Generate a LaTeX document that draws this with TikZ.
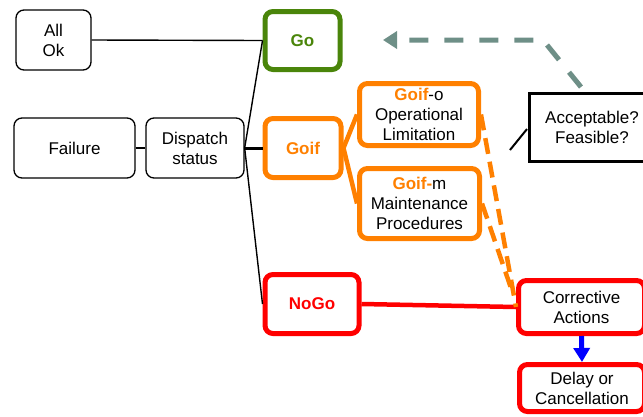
\documentclass[tikz,border=0pt]{standalone}
\usepackage{fontspec}
\setmainfont{Liberation Sans}
\usetikzlibrary{arrows.meta,calc}
\definecolor{gogreen}{HTML}{4A850A}
\definecolor{goorange}{HTML}{FF8000}
\definecolor{nogored}{HTML}{FF0000}
\definecolor{grayteal}{HTML}{6E8F87}
\definecolor{arrowblue}{HTML}{0000FF}
\tikzset{
  txt/.style={font=\fontsize{17}{20}\selectfont, align=center, inner sep=0pt},
  plainbox/.style={txt, draw=black, line width=1.3pt, rounded corners=8pt},
  greenbox/.style={txt, draw=gogreen, line width=5pt, rounded corners=8pt, text=gogreen, font=\fontsize{17}{20}\selectfont\bfseries},
  orangebox/.style={txt, draw=goorange, line width=5pt, rounded corners=8pt},
  redbox/.style={txt, draw=nogored, line width=5pt, rounded corners=8pt},
  sharpbox/.style={txt, draw=black, line width=2.5pt},
  thinline/.style={draw=black, line width=1.4pt},
  orangeline/.style={draw=goorange, line width=4.5pt},
  orangedash/.style={draw=goorange, line width=4.5pt, dash pattern=on 16pt off 8pt},
  redline/.style={draw=nogored, line width=4.5pt},
  backarrow/.style={draw=grayteal, line width=5pt, dash pattern=on 19pt off 16pt, -{Triangle[length=14pt,width=17pt]}},
  bluearrow/.style={draw=arrowblue, line width=5pt, -{Triangle[length=14pt,width=16pt]}}
}
\begin{document}
\begin{tikzpicture}[x=1pt,y=-1pt]
\useasboundingbox (0,0) rectangle (643,416);
% nodes
\node[plainbox, minimum width=75pt, minimum height=60pt] (allok) at (53.5,40) {All\\Ok};
\node[plainbox, minimum width=121pt, minimum height=60pt] (failure) at (74.5,148) {Failure};
\node[plainbox, minimum width=98pt, minimum height=60pt] (dispatch) at (195,148) {Dispatch\\status};
\node[greenbox, minimum width=75pt, minimum height=58pt] (go) at (302.5,40.5) {Go};
\node[orangebox, minimum width=76pt, minimum height=59pt, text=goorange, font=\fontsize{17}{20}\selectfont\bfseries] (goif) at (303,148) {Goif};
\node[redbox, minimum width=94pt, minimum height=59pt, text=nogored, font=\fontsize{17}{20}\selectfont\bfseries] (nogo) at (312,304) {NoGo};
\node[orangebox, minimum width=119pt, minimum height=62pt] (goifo) at (419,114.5) {{\bfseries\color{goorange}Goif}-o\\Operational\\Limitation};
\node[orangebox, minimum width=120pt, minimum height=70pt] (goifm) at (419.5,203.5) {{\bfseries\color{goorange}Goif-}m\\Maintenance\\Procedures};
\node[sharpbox, minimum width=125pt, minimum height=68pt] (accept) at (592,127.5) {Acceptable?\\Feasible?};
\node[redbox, minimum width=126pt, minimum height=53pt] (corr) at (581.5,307) {Corrective\\Actions};
\node[redbox, minimum width=125pt, minimum height=47pt] (delay) at (582,388) {Delay or\\Cancellation};
% coordinates
\coordinate (stubA) at (510,150);
\coordinate (backstart) at (581,87);
\coordinate (backbend) at (543,40);
\coordinate (backend) at (383,40);
\coordinate (mdashend) at (512,291);
% connectors
\draw[thinline] (allok.east) -- (go.west);
\draw[thinline] (failure.east) -- (dispatch.west);
\draw[thinline] (dispatch.east) -- (go.west);
\draw[thinline] (dispatch.east) -- (nogo.west);
\draw[draw=black, line width=3pt] (dispatch.east) -- (goif.west);
\draw[orangeline] (goif.east) -- (goifo.west);
\draw[orangeline] (goif.east) -- (goifm.west);
\draw[redline] (nogo.east) -- (corr.west);
\draw[orangedash] (goifo.east) -- (corr.west);
\draw[orangedash] (goifm.east) -- (mdashend);
\draw[draw=black, line width=2pt, shorten >=2pt] (stubA) -- (accept.west);
\draw[backarrow] (backstart) -- (backbend) -- (backend);
\draw[bluearrow] (corr.south) -- (delay.north);
\end{tikzpicture}
\end{document}
